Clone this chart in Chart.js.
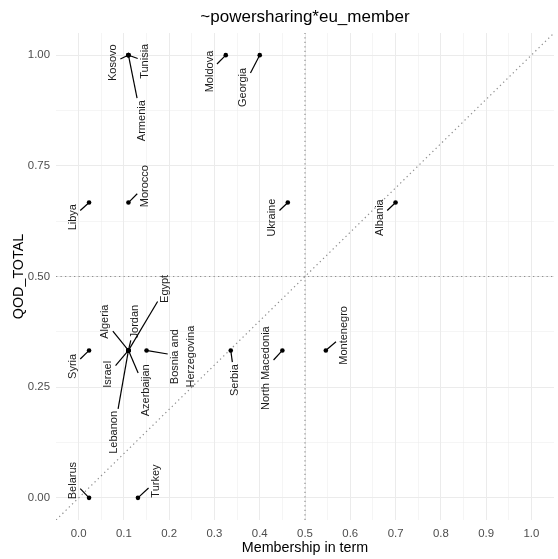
<!DOCTYPE html>
<html><head><meta charset="utf-8">
<script src="https://cdn.jsdelivr.net/npm/chart.js@4.4.0/dist/chart.umd.min.js"></script>
<style>html,body{margin:0;padding:0;background:#fff}#wrap{width:558px;height:559px;position:relative}</style>
</head><body><div id="wrap"><canvas id="c"></canvas></div>
<script>
// ---- data ----
const countries = ["Kosovo","Tunisia","Armenia","Moldova","Georgia","Libya","Morocco","Ukraine","Albania","Syria","Algeria","Jordan","Egypt","Israel","Lebanon","Azerbaijan","Bosnia and\nHerzegovina","Serbia","North Macedonia","Montenegro","Belarus","Turkey"];
const membership = [0.11,0.11,0.11,0.325,0.4,0.023,0.11,0.462,0.7,0.023,0.11,0.11,0.11,0.11,0.11,0.11,0.15,0.336,0.45,0.546,0.023,0.131];
const qodTotal = [1,1,1,1,1,0.667,0.667,0.667,0.667,0.333,0.333,0.333,0.333,0.333,0.333,0.333,0.333,0.333,0.333,0.333,0,0];
// repelled label anchor positions (data units)
const labelX = [0.0756,0.147,0.139,0.289,0.363,-0.013,0.146,0.427,0.665,-0.013,0.059,0.125,0.191,0.065,0.078,0.148,0.231,0.345,0.414,0.585,-0.013,0.171];
const labelY = [0.983,0.986,0.852,0.963,0.927,0.634,0.704,0.633,0.633,0.297,0.398,0.398,0.472,0.279,0.148,0.243,0.319,0.266,0.293,0.367,0.039,0.038];
const xMajorTicks = [0,0.1,0.2,0.3,0.4,0.5,0.6,0.7,0.8,0.9,1.0];
const yMajorTicks = [0,0.25,0.5,0.75,1.0];
const axisLimits = [-0.05,1.05];
const refH = 0.5, refV = 0.5;
const titleText = "~powersharing*eu_member";
const xTitle = "Membership in term";
const yTitle = "QOD_TOTAL";

const FONT = '"Liberation Sans", Arial, Helvetica, sans-serif';

function withMinors(majors){
  const out=[];
  for(let i=0;i<majors.length;i++){
    out.push({value:majors[i], major:true});
    if(i<majors.length-1) out.push({value:(majors[i]+majors[i+1])/2, major:false});
  }
  return out;
}

const repelPlugin = {
  id:'repel',
  afterDatasetsDraw(chart){
    const {ctx, scales:{x,y}} = chart;
    ctx.save();
    ctx.font = '11px ' + FONT;
    const lineH = 16, pad = 2;
    countries.forEach((name,i)=>{
      const px = x.getPixelForValue(membership[i]), py = y.getPixelForValue(qodTotal[i]);
      const lx = x.getPixelForValue(labelX[i]), ly = y.getPixelForValue(labelY[i]);
      const lines = name.split('\n');
      const w = Math.max(...lines.map(l=>ctx.measureText(l).width));
      const h = (lines.length-1)*lineH + 11;
      const hx = h/2 + pad, hy = w/2 + pad;
      const dx = px-lx, dy = py-ly;
      const t = Math.min(hx/Math.max(Math.abs(dx),1e-9), hy/Math.max(Math.abs(dy),1e-9));
      if (t < 1) {
        const sx = lx + dx*t, sy = ly + dy*t;
        const len = Math.hypot(px-sx, py-sy);
        if (len > 3) {
          const ex = px - (px-sx)/len*1, ey = py - (py-sy)/len*1;
          ctx.beginPath();
          ctx.moveTo(sx,sy); ctx.lineTo(ex,ey);
          ctx.strokeStyle = '#000'; ctx.lineWidth = 1.2;
          ctx.stroke();
        }
      }
      ctx.save();
      ctx.translate(lx,ly);
      ctx.rotate(-Math.PI/2);
      ctx.fillStyle = '#1a1a1a';
      ctx.textAlign = 'center';
      ctx.textBaseline = 'middle';
      lines.forEach((l,k)=>{
        ctx.fillText(l, 0, (k-(lines.length-1)/2)*lineH);
      });
      ctx.restore();
    });
    ctx.restore();
  }
};

const gridColor = '#ebebeb';
const gridWidth = c => (c.tick && c.tick.major) ? 1 : 0.5;

new Chart(document.getElementById('c'), {
  type:'scatter',
  data:{
    datasets:[
      {
        data: membership.map((v,i)=>({x:v,y:qodTotal[i]})),
        backgroundColor:'#000', borderColor:'#000', pointRadius:2.3, pointBorderWidth:0
      },
      {
        data:[{x:axisLimits[0],y:refH},{x:axisLimits[1],y:refH}],
        showLine:true, borderColor:'#8f8f8f', borderWidth:1.2, borderDash:[1.3,3.2], pointRadius:0, fill:false
      },
      {
        data:[{x:refV,y:axisLimits[0]},{x:refV,y:axisLimits[1]}],
        showLine:true, borderColor:'#8f8f8f', borderWidth:1.2, borderDash:[1.3,3.2], pointRadius:0, fill:false
      },
      {
        data:[{x:axisLimits[0],y:axisLimits[0]},{x:axisLimits[1],y:axisLimits[1]}],
        showLine:true, borderColor:'#8f8f8f', borderWidth:1.2, borderDash:[1.3,3.2], pointRadius:0, fill:false
      }
    ]
  },
  options:{
    responsive:true, maintainAspectRatio:false, animation:false, devicePixelRatio:1,
    layout:{padding:{left:0,right:2,top:0,bottom:0}},
    plugins:{
      legend:{display:false}, tooltip:{enabled:false},
      title:{display:true, text:titleText, fullSize:false, color:'#000',
        font:{family:FONT, size:17, weight:'normal'}, padding:{top:7,bottom:5.6}}
    },
    scales:{
      x:{
        type:'linear', min:axisLimits[0], max:axisLimits[1],
        afterBuildTicks: s => { s.ticks = withMinors(xMajorTicks); },
        afterFit: s => { s.height = 39; },
        ticks:{autoSkip:false, maxRotation:0, padding:7, color:'#4d4d4d',
          font:{family:FONT, size:11.4},
          callback:(v,i,t)=> t[i].major ? v.toFixed(1) : ''},
        grid:{color:gridColor, lineWidth:gridWidth, drawTicks:false},
        border:{display:false},
        title:{display:true, text:xTitle, color:'#000', font:{family:FONT,size:14.3}, padding:{top:0,bottom:2}}
      },
      y:{
        type:'linear', min:axisLimits[0], max:axisLimits[1],
        afterBuildTicks: s => { s.ticks = withMinors(yMajorTicks); },
        afterFit: s => { s.width = 56; },
        ticks:{autoSkip:false, padding:6, color:'#4d4d4d',
          font:{family:FONT, size:11.4},
          callback:(v,i,t)=> t[i].major ? v.toFixed(2) : ''},
        grid:{color:gridColor, lineWidth:gridWidth, drawTicks:false},
        border:{display:false},
        title:{display:true, text:yTitle, color:'#000', font:{family:FONT,size:14.3}, padding:{top:10,bottom:0}}
      }
    }
  },
  plugins:[repelPlugin]
});
</script>
</body></html>
